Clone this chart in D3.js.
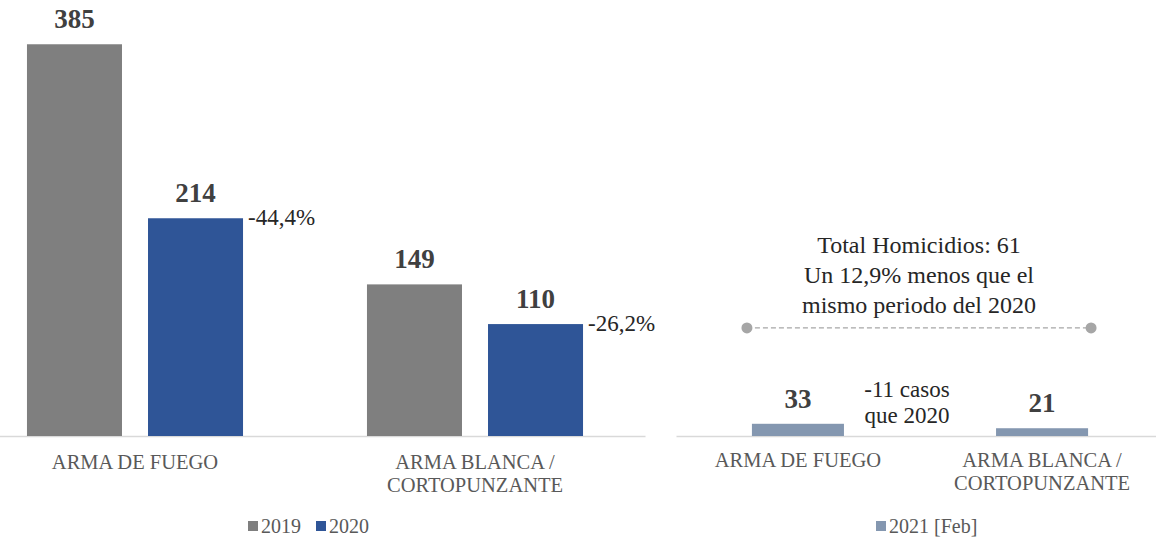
<!DOCTYPE html>
<html>
<head>
<meta charset="utf-8">
<script src="https://cdn.jsdelivr.net/npm/d3@7"></script>
<style>
  html, body { margin: 0; padding: 0; background: #fff; }
  svg, svg text { font-family: "Liberation Serif", "Times New Roman", serif; }
  svg { display: block; }
</style>
</head>
<body>
<svg id="chart" width="1156" height="538"></svg>
<script>
// Chart data
const categories = ['ARMA DE FUEGO', 'ARMA BLANCA / CORTOPUNZANTE'];
const years = ['2019', '2020'];
const values2019 = [385, 149];
const values2020 = [214, 110];
const changeLabels = ['-44,4%', '-26,2%'];
const values2021 = [33, 21];
const year2021Label = '2021 [Feb]';
const refLevel = 292; // dashed reference line on the right panel
const totalNote = ['Total Homicidios: 61', 'Un 12,9% menos que el', 'mismo periodo del 2020'];
const casesNote = ['-11 casos', 'que 2020'];

const colors = { '2019': '#7f7f7f', '2020': '#2f5597', '2021': '#8497b0' };
const labelColor = '#404040';
const axisColor = '#d9d9d9';
const catColor = '#595959';

const svg = d3.select('#chart');
const baseY = 436;

// ---- left panel: 2019 vs 2020 ----
const xL = d3.scaleBand().domain(categories).range([-35, 645]);
const xS = d3.scaleBand().domain(years).range([0, xL.bandwidth()])
  .paddingInner(0.215).paddingOuter(0.512);
const yL = d3.scaleLinear().domain([0, 400]).range([baseY, 29]);

const left = svg.append('g');

left.append('g')
  .attr('transform', `translate(0,${baseY})`)
  .call(d3.axisBottom(xL).tickSize(0).tickFormat(''))
  .call(g => g.select('.domain').attr('stroke', axisColor).attr('stroke-width', 1.3));

const leftRows = categories.map((c, i) => ({ cat: c, vals: [values2019[i], values2020[i]], change: changeLabels[i] }));

const groups = left.selectAll('g.grp')
  .data(leftRows)
  .enter().append('g')
  .attr('class', 'grp')
  .attr('transform', d => `translate(${xL(d.cat)},0)`);

groups.selectAll('rect')
  .data(d => d.vals.map((v, j) => ({ year: years[j], v })))
  .enter().append('rect')
  .attr('x', d => xS(d.year))
  .attr('y', d => yL(d.v))
  .attr('width', xS.bandwidth())
  .attr('height', d => baseY - yL(d.v))
  .attr('fill', d => colors[d.year]);

groups.selectAll('text.val')
  .data(d => d.vals.map((v, j) => ({ year: years[j], v })))
  .enter().append('text')
  .attr('class', 'val')
  .attr('x', d => xS(d.year) + xS.bandwidth() / 2)
  .attr('y', d => yL(d.v) - 16)
  .attr('text-anchor', 'middle')
  .attr('font-size', 27)
  .attr('font-weight', 'bold')
  .attr('fill', labelColor)
  .text(d => d.v);

groups.append('text')
  .attr('x', xS('2020') + xS.bandwidth() + 5)
  .attr('y', d => yL(d.vals[1]) + 7)
  .attr('font-size', 23)
  .attr('fill', '#262626')
  .text(d => d.change);

function catLabels(g, xScale, y) {
  g.selectAll('text.cat')
    .data(categories)
    .enter().append('text')
    .attr('class', 'cat')
    .attr('x', d => xScale(d) + xScale.bandwidth() / 2)
    .attr('y', y)
    .attr('text-anchor', 'middle')
    .attr('font-size', 20.5)
    .attr('fill', catColor)
    .each(function(d) {
      const parts = d.includes(' / ') ? [d.split(' / ')[0] + ' /', d.split(' / ')[1]] : [d];
      const t = d3.select(this);
      parts.forEach((p, k) => {
        t.append('tspan')
          .attr('x', xScale(d) + xScale.bandwidth() / 2)
          .attr('dy', k === 0 ? 0 : 23)
          .text(p);
      });
    });
}
catLabels(left, xL, 469);

// legend left
const legL = left.append('g').attr('transform', 'translate(248,521)');
let lx = 0;
years.forEach(y => {
  legL.append('rect').attr('x', lx).attr('y', 0).attr('width', 10).attr('height', 10).attr('fill', colors[y]);
  legL.append('text').attr('x', lx + 13).attr('y', 12).attr('font-size', 20).attr('fill', catColor).text(y);
  lx += 68;
});

// ---- right panel: 2021 [Feb] ----
const xR = d3.scaleBand().domain(categories).range([676, 1164])
  .paddingInner(0.623).paddingOuter(0.311);
const yR = d3.scaleLinear().domain([0, 1100]).range([baseY, 29]);

const right = svg.append('g');

right.append('g')
  .attr('transform', `translate(0,${baseY})`)
  .call(d3.axisBottom(xR).tickSize(0).tickFormat(''))
  .call(g => g.select('.domain').attr('stroke', axisColor).attr('stroke-width', 1.3));

right.selectAll('rect.b21')
  .data(values2021)
  .enter().append('rect')
  .attr('class', 'b21')
  .attr('x', (d, i) => xR(categories[i]))
  .attr('y', d => yR(d))
  .attr('width', xR.bandwidth())
  .attr('height', d => baseY - yR(d))
  .attr('fill', colors['2021']);

right.selectAll('text.v21')
  .data(values2021)
  .enter().append('text')
  .attr('class', 'v21')
  .attr('x', (d, i) => xR(categories[i]) + xR.bandwidth() / 2)
  .attr('y', d => yR(d) - 16)
  .attr('text-anchor', 'middle')
  .attr('font-size', 27)
  .attr('font-weight', 'bold')
  .attr('fill', labelColor)
  .text(d => d);

// "-11 casos que 2020" note beside the first bar
const noteX = xR(categories[0]) + xR.bandwidth() + 63;
const note = right.append('text')
  .attr('x', noteX)
  .attr('y', yR(values2021[0]) - 27)
  .attr('text-anchor', 'middle')
  .attr('font-size', 23)
  .attr('fill', '#262626');
casesNote.forEach((s, k) => note.append('tspan').attr('x', noteX).attr('dy', k ? 26 : 0).text(s));

// dashed reference line with end dots
const refPts = [
  [xR(categories[0]) - 5, yR(refLevel)],
  [xR(categories[1]) + xR.bandwidth() + 3, yR(refLevel)]
];
right.append('path')
  .attr('d', d3.line()(refPts))
  .attr('stroke', '#a6a6a6')
  .attr('stroke-width', 1.2)
  .attr('stroke-dasharray', '5,3')
  .attr('fill', 'none');
right.selectAll('circle.ref')
  .data(refPts)
  .enter().append('circle')
  .attr('class', 'ref')
  .attr('cx', d => d[0])
  .attr('cy', d => d[1])
  .attr('r', 5.5)
  .attr('fill', '#a6a6a6');

const midX = (refPts[0][0] + refPts[1][0]) / 2;
const total = right.append('text')
  .attr('x', midX)
  .attr('y', yR(refLevel) - 75)
  .attr('text-anchor', 'middle')
  .attr('font-size', 24)
  .attr('fill', '#262626');
totalNote.forEach((s, k) => total.append('tspan').attr('x', midX).attr('dy', k ? 30 : 0).text(s));

catLabels(right, xR, 467);

// legend right
const legR = right.append('g').attr('transform', 'translate(876,521)');
legR.append('rect').attr('width', 10).attr('height', 10).attr('fill', colors['2021']);
legR.append('text').attr('x', 13).attr('y', 12).attr('font-size', 20).attr('fill', catColor).text(year2021Label);
</script>
</body>
</html>
